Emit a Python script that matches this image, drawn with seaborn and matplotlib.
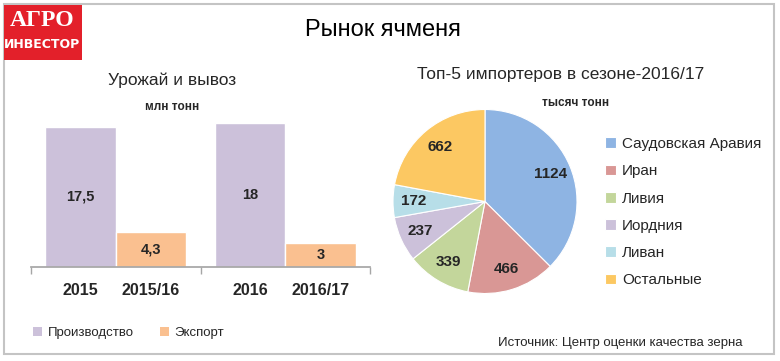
"""
Рынок ячменя - barley market chart
"""
import matplotlib
matplotlib.use("Agg")
import matplotlib.pyplot as plt
from matplotlib.patches import Rectangle, Patch
import seaborn as sns
import pandas as pd

# --- data ---
bar_labels = ["2015", "2015/16", "2016", "2016/17"]
bar_groups = ["2015", "2015", "2016", "2016"]
bar_series = ["Производство", "Экспорт", "Производство", "Экспорт"]
bar_values = [17.5, 4.3, 18.0, 3.0]

importers = ["Саудовская Аравия", "Иран", "Ливия", "Иордния", "Ливан", "Остальные"]
import_values = [1124, 466, 339, 237, 172, 662]

bar_colors = {"Производство": "#CCC1DA", "Экспорт": "#FAC090"}
pie_colors = ["#8EB4E3", "#D99795", "#C3D69B", "#CCC1DA", "#B7DEE8", "#FCC862"]

sns.set_theme(style="white")
plt.rcParams['font.family'] = ['Liberation Sans', 'DejaVu Sans']

W, H = 780, 361
fig = plt.figure(figsize=(W / 100, H / 100), dpi=100)


def fx(px):
    return px / W


def fy(py):
    return 1 - py / H


# outer frame
fig.patches.append(Rectangle((fx(4), fy(354)), fx(770), (350) / H, transform=fig.transFigure,
                             fill=False, edgecolor="#C4C4C4", linewidth=1.5))

# logo
fig.patches.append(Rectangle((fx(4), fy(60)), fx(78), 55 / H, transform=fig.transFigure,
                             facecolor="#E3202A", edgecolor="none"))
fig.text(fx(42), fy(21), "АГРО", color="white", fontsize=17, fontweight="bold",
         family=["Liberation Serif", "DejaVu Serif"], ha="center", va="center")
fig.text(fx(42), fy(45), "ИНВЕСТОР", color="white", fontsize=9, fontweight="bold",
         family=["DejaVu Sans"], ha="center", va="center")

# main title
fig.text(fx(383), fy(30), "Рынок ячменя", fontsize=17, ha="center", va="center", color="black")

# --- bar chart ---
df = pd.DataFrame({"group": bar_groups, "series": bar_series, "value": bar_values})
ax = fig.add_axes([fx(31), 1 - 266.7 / H, 339 / W, 160 / H])
sns.barplot(data=df, x="group", y="value", hue="series", palette=bar_colors,
            width=0.83, gap=0, saturation=1, legend=False, ax=ax)
ax.set_ylim(0, 20)
ax.set_xlim(-0.5, 1.5)
for c in ax.containers:
    ax.bar_label(c, labels=[f"{v:g}".replace(".", ",") for v in c.datavalues],
                 label_type="center", fontsize=10.5, fontweight="bold")

centers = sorted(p.get_x() + p.get_width() / 2 for p in ax.patches if p.get_height() > 0)
ax.set_xticks(centers)
ax.set_xticklabels(bar_labels, fontsize=11.5, fontweight="bold")
ax.set_xticks([-0.5, 0.5, 1.5], minor=True)
ax.tick_params(axis="x", which="major", length=0, pad=12)
ax.tick_params(axis="x", which="minor", length=5, width=1, color="#A6A6A6", direction="out", bottom=True)
ax.set_yticks([])
ax.set_xlabel("")
ax.set_ylabel("")
for s in ["top", "left", "right"]:
    ax.spines[s].set_visible(False)
ax.spines["bottom"].set_color("#A6A6A6")

fig.text(fx(172), fy(80), "Урожай и вывоз", fontsize=12.5, ha="center", va="center")
fig.text(fx(172), fy(107), "млн тонн", fontsize=8.5, fontweight="bold", ha="center", va="center")

handles = [Patch(facecolor=bar_colors[s], edgecolor="none") for s in ["Производство", "Экспорт"]]
fig.legend(handles, ["Производство", "Экспорт"], loc="center left", ncol=2,
           bbox_to_anchor=(fx(33), fy(333)), frameon=False, fontsize=9.5,
           handlelength=0.7, handleheight=0.7, handletextpad=0.4, columnspacing=2.0,
           borderpad=0, borderaxespad=0)

# --- pie chart ---
total = sum(import_values)
R = 92
axp = fig.add_axes([fx(485 - R), 1 - (201.5 + R) / H, 2 * R / W, 2 * R / H])
wedges, _, autotexts = axp.pie(import_values, colors=pie_colors, startangle=90, counterclock=False,
                               autopct=lambda p: f"{round(p * total / 100)}", pctdistance=0.77,
                               wedgeprops=dict(edgecolor="white", linewidth=0.8),
                               textprops=dict(fontsize=11, fontweight="bold"))
axp.set_xlim(-1, 1)
axp.set_ylim(-1, 1)

fig.text(fx(561), fy(75), "Топ-5 импортеров в сезоне-2016/17", fontsize=12.5, ha="center", va="center")
fig.text(fx(576), fy(103), "тысяч тонн", fontsize=8.5, fontweight="bold", ha="center", va="center")

fig.legend(wedges, importers, loc="upper left", bbox_to_anchor=(fx(605), fy(137)),
           frameon=False, fontsize=11, handlelength=0.7, handleheight=0.7,
           handletextpad=0.4, labelspacing=0.87, borderpad=0, borderaxespad=0)

fig.text(fx(620), fy(343), "Источник: Центр оценки качества зерна", fontsize=9.5,
         ha="center", va="center")

fig.savefig("out.png", dpi=100, facecolor="white")
